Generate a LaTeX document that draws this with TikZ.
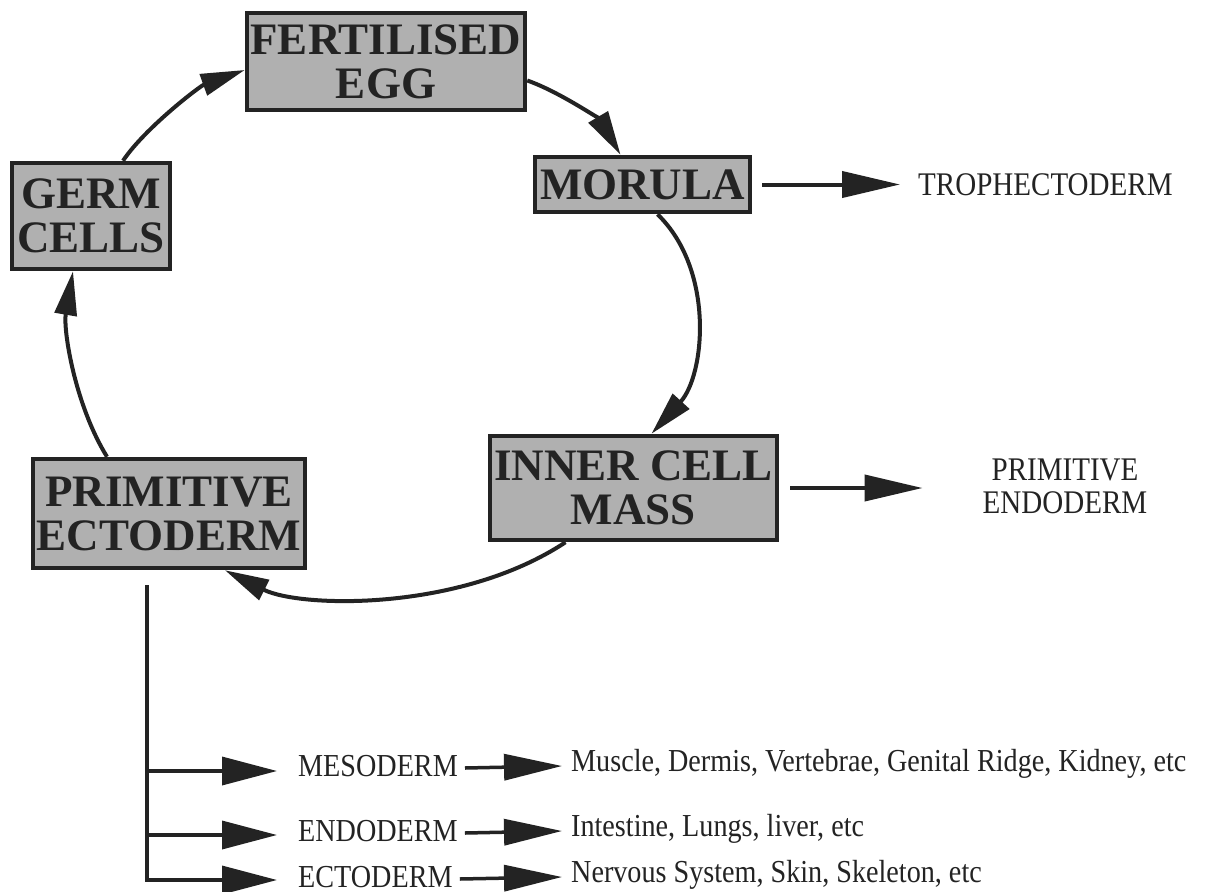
\documentclass[tikz,border=0pt]{standalone}
\usepackage{fontspec}
\setmainfont{Liberation Serif}
\newfontfamily\condfont[FakeStretch=0.88]{Liberation Serif}
\usetikzlibrary{arrows.meta}
\definecolor{boxgray}{RGB}{176,176,176}
\definecolor{ink}{RGB}{35,35,35}
\begin{document}
\begin{tikzpicture}[x=1pt,y=-1pt,
  stagebox/.style={draw=ink, line width=4.5pt, fill=boxgray, inner sep=0pt, align=center,
    font=\fontsize{45}{44}\selectfont\bfseries, text=ink},
  cyc/.style={draw=ink, line width=4pt, -{Triangle[length=44pt,width=22pt]}},
  bigarrow/.style={draw=ink, line width=4pt, -{Triangle[length=58pt,width=26pt]}},
  branch/.style={draw=ink, line width=3.5pt, -{Triangle[length=55pt,width=28pt]}},
  smallarrow/.style={draw=ink, line width=3.5pt, -{Triangle[length=58pt,width=26pt]}},
  lbl/.style={font=\condfont\fontsize{33}{33}\selectfont, text=ink, align=center, inner sep=0pt},
  small/.style={font=\condfont\fontsize{32}{32}\selectfont, text=ink, inner sep=0pt, anchor=west}
]
\useasboundingbox[fill=white] (0,0) rectangle (1211,892);

% stage boxes
\node[stagebox, minimum width=278pt, minimum height=97pt] (egg) at (386,61.5) {FERTILISED\\EGG};
\node[stagebox, minimum width=215pt, minimum height=55pt] (morula) at (642.5,184.5) {MORULA};
\node[stagebox, minimum width=287pt, minimum height=104pt] (icm) at (633.5,488) {INNER CELL\\MASS};
\node[stagebox, minimum width=272pt, minimum height=109pt] (pe) at (169,513.5) {PRIMITIVE\\ECTODERM};
\node[stagebox, minimum width=158pt, minimum height=106pt] (germ) at (91,216) {GERM\\CELLS};

% side labels
\node[lbl, anchor=west] (troph) at (918,184.5) {TROPHECTODERM};
\node[lbl] (pendo) at (1065,486) {PRIMITIVE\\ENDODERM};

% cycle
\draw[cyc] ([yshift=-19pt]egg.east) .. controls (560,92) and (600,120) .. ([xshift=-22pt]morula.north);
\draw[cyc] ([xshift=15pt]morula.south) .. controls (715,270) and (705,375) .. ([xshift=18pt]icm.north);
\draw[cyc] ([xshift=-68pt]icm.south) .. controls (460,612) and (300,608) .. ([xshift=56pt]pe.south);
\draw[cyc] ([xshift=-62pt]pe.north) .. controls (75,405) and (63,330) .. ([xshift=-18pt]germ.south);
\draw[cyc] ([xshift=32pt]germ.north) .. controls (145,128) and (200,86) .. ([yshift=-8.5pt]egg.west);

% side arrows
\draw[bigarrow] ([xshift=10pt]morula.east) -- ([xshift=-18pt]troph.west);
\draw[bigarrow] ([xshift=11pt]icm.east) -- ([xshift=-60pt]icm.east -| pendo.west);

% germ layers
\node[small] (meso) at (298,766) {MESODERM};
\node[small] (endo) at (298,831) {ENDODERM};
\node[small] (ecto) at (298,877) {ECTODERM};
\node[small] (mesoT) at (571,764) {Muscle, Dermis, Vertebrae, Genital Ridge, Kidney, etc};
\node[small] (endoT) at (571,829) {Intestine, Lungs, liver, etc};
\node[small] (ectoT) at (571,875) {Nervous System, Skin, Skeleton, etc};

\coordinate (top) at ([xshift=-22pt,yshift=-15pt]pe.south);
\draw[branch] (top) |- ([xshift=-21pt,yshift=-5pt]meso.west);
\draw[branch] (top) |- ([xshift=-21pt,yshift=-4pt]endo.west);
\draw[branch] (top) |- ([xshift=-21pt,yshift=-3pt]ecto.west);

\draw[smallarrow] ([xshift=7pt,yshift=-2pt]meso.east) -- ([xshift=-9pt]meso.east -| mesoT.west);
\draw[smallarrow] ([xshift=7pt,yshift=-2pt]endo.east) -- ([xshift=-9pt]endo.east -| endoT.west);
\draw[smallarrow] ([xshift=7pt,yshift=-2pt]ecto.east) -- ([xshift=-9pt]ecto.east -| ectoT.west);
\end{tikzpicture}
\end{document}
